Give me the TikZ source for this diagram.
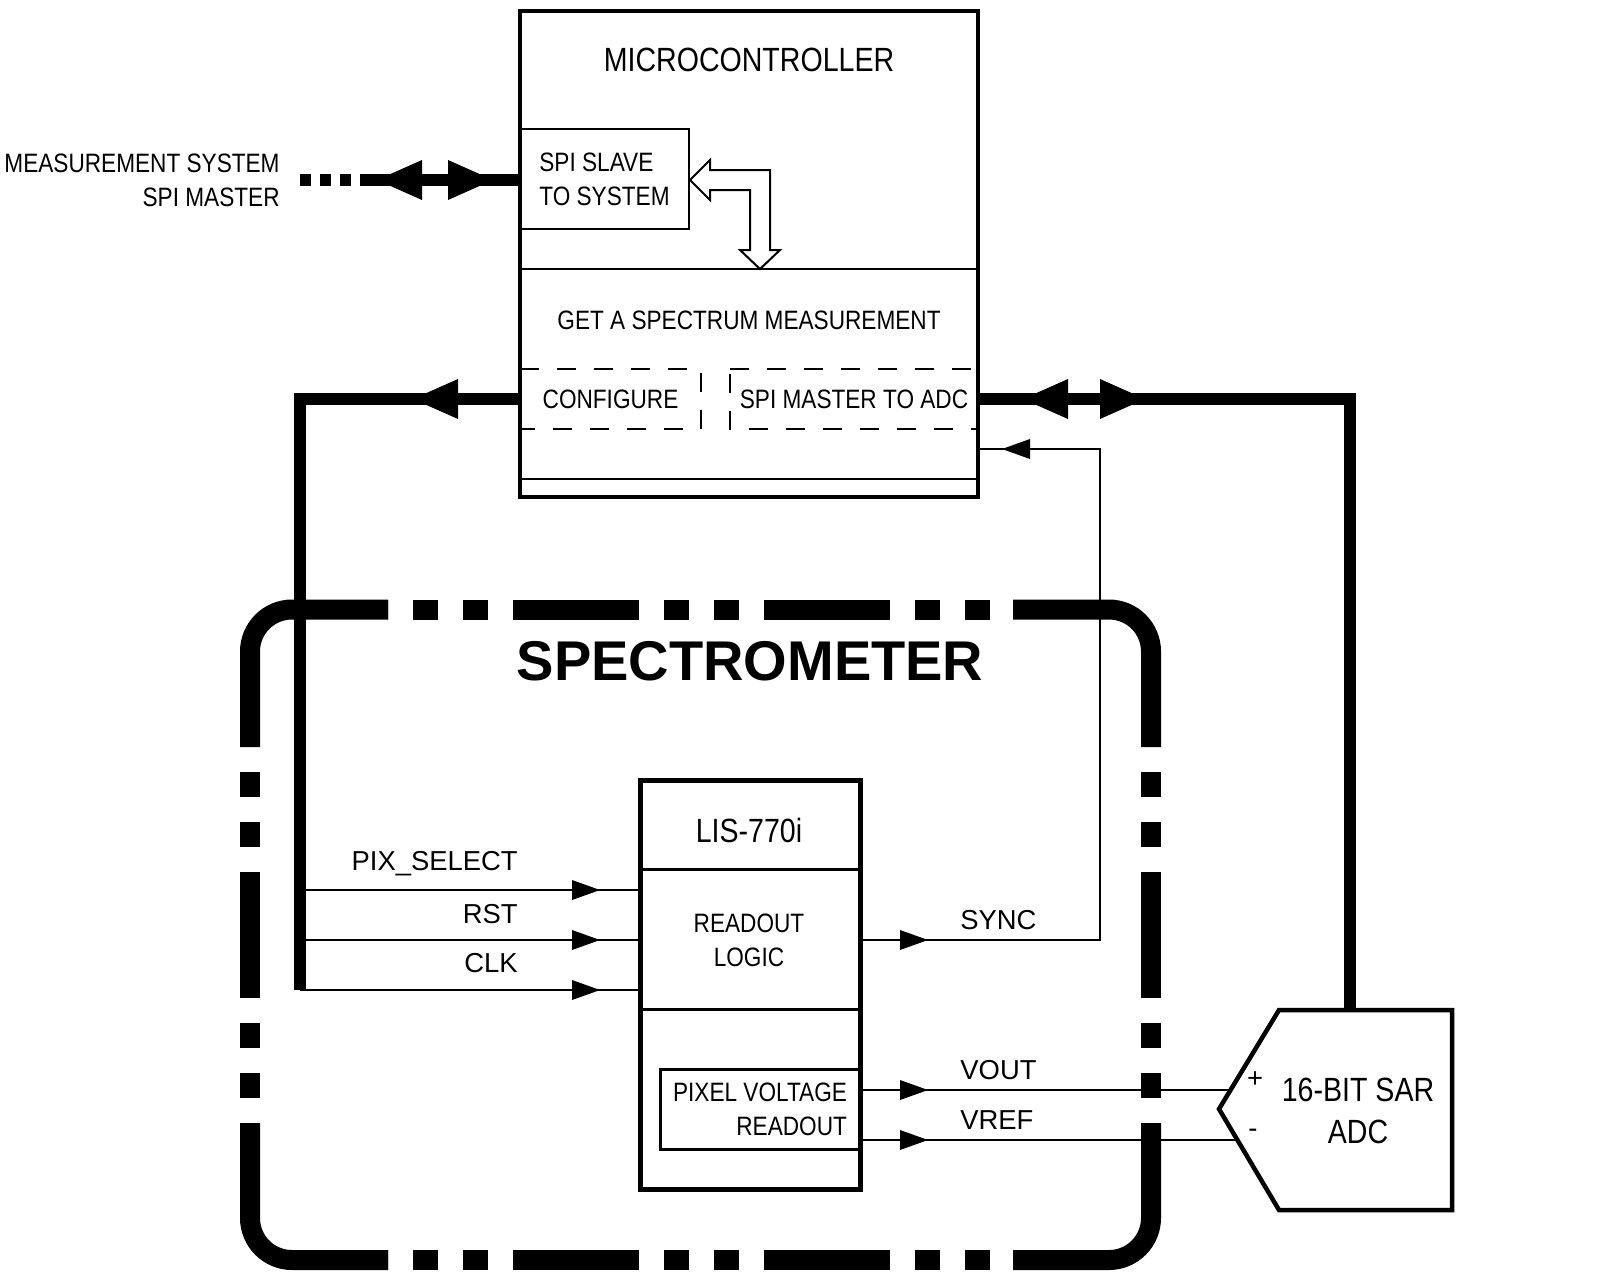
\documentclass[tikz,border=0pt]{standalone}
\usepackage{fontspec}
\setmainfont{Liberation Sans}[FakeStretch=0.85]
\newfontfamily\sigfont{Liberation Sans}
\usetikzlibrary{calc}
\tikzset{blk/.style={draw, line width=#1, inner sep=0pt, outer sep=0pt},
  dbox/.style={inner sep=0pt, outer sep=0pt},
  dashline/.style={line width=1.25pt, dash pattern=on 9.5pt off 9pt},
  specframe/.style={line width=10pt},
  framedash/.style={dash pattern=on 12.5pt off 12.5pt on 12.5pt off 12.5pt on 63pt off 12.5pt, dash phase=113pt},
  bus/.style={line width=6pt},
  sig/.style={line width=1pt},
  divline/.style={line width=1pt},
  bodytxt/.style={inner sep=0pt, font=\fontsize{13.3}{17}\selectfont},
  titletxt/.style={inner sep=0pt, font=\fontsize{16.8}{21}\selectfont},
  sigtxt/.style={inner sep=0pt, font=\sigfont\fontsize{13.7}{16}\selectfont},
  bighead/.pic={\fill (0,0) -- (-45,20) -- (-45,-20) -- cycle;},
  smallhead/.pic={\fill (0,0) -- (-28,10) -- (-28,-10) -- cycle;}}

\begin{document}
\begin{tikzpicture}[x=0.5pt,y=-0.5pt]
  \useasboundingbox (0,0) rectangle (1600,1280);
  \draw[specframe, rounded corners=21pt] (388,609.5) -| (250,747);
  \draw[specframe, rounded corners=21pt] (1013,609.5) -| (1151,747);
  \draw[specframe, rounded corners=21pt] (388,1260) -| (250,1123);
  \draw[specframe, rounded corners=21pt] (1013,1260) -| (1151,1123);
  \draw[specframe, framedash] (388,609.5) -- (1013,609.5);
  \draw[specframe, framedash] (388,1260) -- (1013,1260);
  \draw[specframe, framedash] (250,747) -- (250,1123);
  \draw[specframe, framedash] (1151,747) -- (1151,1123);
  \node[inner sep=0pt, font=\sigfont\bfseries\fontsize{28}{30}\selectfont] (spectro) at (750,661) {SPECTROMETER};

  \node[dbox, bodytxt, minimum width=90.5pt, minimum height=30pt] (cfg) at (610.5,399) {CONFIGURE};
  \node[dbox, bodytxt, minimum width=124pt, minimum height=30pt] (spim) at (854,399) {SPI MASTER TO ADC};
  \draw[dashline] (cfg.north west) -- (cfg.north east) -- (cfg.south east) -- (cfg.south west) -- cycle;
  \draw[dashline] (spim.north west) -- (spim.north east) -- (spim.south east) -- (spim.south west) -- cycle;
  \node[blk=2.25pt, minimum width=229pt, minimum height=243pt] (mcu) at (749,254) {};
  \node[titletxt] (mcutitle) at (749,60) {MICROCONTROLLER};
  \node[blk=1.25pt, bodytxt, align=left, minimum width=84.5pt, minimum height=50pt] (slave) at (604.5,179) {SPI SLAVE\\TO SYSTEM};
  \draw[divline] (mcu.west |- 0,269) -- (mcu.east |- 0,269);
  \node[bodytxt] (getspec) at (749,320) {GET A SPECTRUM MEASUREMENT};
  \draw[divline] (mcu.west |- 0,479) -- (mcu.east |- 0,479);
  \draw[line width=1pt, fill=white] (690,180) -- (710,160) -- (710,170) -- (770,170) -- (770,250) -- (780,250) --
    (760,269) -- (740,250) -- (750,250) -- (750,190) -- (710,190) -- (710,200) -- cycle;

  \node[bodytxt, align=right, anchor=east] (master) at (280,180) {MEASUREMENT SYSTEM\\SPI MASTER};
  \coordinate (spiend) at (300,180);
  \draw[bus, dash pattern=on 5.5pt off 4.5pt] (spiend) -- ++(60,0) coordinate (spisolid);
  \draw[bus] (spisolid) -- (mcu.west |- spiend);
  \pic[rotate=180] at (377,180) {bighead};
  \pic at (493,180) {bighead};

  \coordinate (tap) at (300,990);
  \draw[bus] (mcu.west |- cfg) -| (tap);
  \pic[rotate=180] at (413,399) {bighead};
  \coordinate (adctop) at (1350,1010);
  \draw[bus] (mcu.east |- spim) -| (adctop);
  \pic[rotate=180] at (1023,399) {bighead};
  \pic at (1145,399) {bighead};

  \node[blk=2.5pt, minimum width=110pt, minimum height=204.5pt] (lis) at (750,984.5) {};
  \node[titletxt] (listitle) at (749,830) {LIS-770i};
  \draw[line width=1.5pt] (lis.west |- 0,869) -- (lis.east |- 0,869);
  \draw[line width=1.5pt] (lis.west |- 0,1009) -- (lis.east |- 0,1009);
  \node[bodytxt, align=center] (logic) at (749,940) {READOUT\\LOGIC};
  \node[blk=1.5pt, bodytxt, align=right, minimum width=100pt, minimum height=40pt] (pvr) at (760,1109) {PIXEL VOLTAGE\\READOUT};

  \draw[sig] (tap |- 0,890) -- (lis.west |- 0,890);
  \draw[sig] (tap |- 0,940) -- (lis.west |- 0,940);
  \draw[sig] (tap) -- (lis.west |- tap);
  \pic at (600,890) {smallhead};
  \pic at (600,940) {smallhead};
  \pic at (600,990) {smallhead};
  \node[sigtxt, anchor=east] (pixlbl) at (518,864) {PIX\_SELECT};
  \node[sigtxt, anchor=east] (rstlbl) at (518,914) {RST};
  \node[sigtxt, anchor=east] (clklbl) at (518,963) {CLK};

  \coordinate (syncup) at (1100,449);
  \draw[sig] (lis.east |- 0,940) -| (syncup) -- (mcu.east |- syncup);
  \pic at (928,940) {smallhead};
  \pic[rotate=180] at (1002,449) {smallhead};
  \node[sigtxt, anchor=west] (synclbl) at (960,920) {SYNC};

  \coordinate (adcp) at (1230.5,1090);
  \coordinate (adcm) at (1237.4,1140);
  \draw[sig] (lis.east |- adcp) -- (adcp);
  \draw[sig] (lis.east |- adcm) -- (adcm);
  \pic at (928,1090) {smallhead};
  \pic at (928,1140) {smallhead};
  \node[sigtxt, anchor=west] (voutlbl) at (960,1070) {VOUT};
  \node[sigtxt, anchor=west] (vreflbl) at (960,1120) {VREF};
  \draw[line width=2.25pt, fill=white] (1279,1010) -- (1452,1010) -- (1452,1210) -- (1279,1210) -- (1219,1109) -- cycle;
  \node[sigtxt] (plus) at (1255,1080) {+};
  \node[sigtxt] (minus) at (1253,1133) {-};
  \node[titletxt, align=center] (adc) at (1358,1111) {16-BIT SAR\\ADC};
\end{tikzpicture}
\end{document}
